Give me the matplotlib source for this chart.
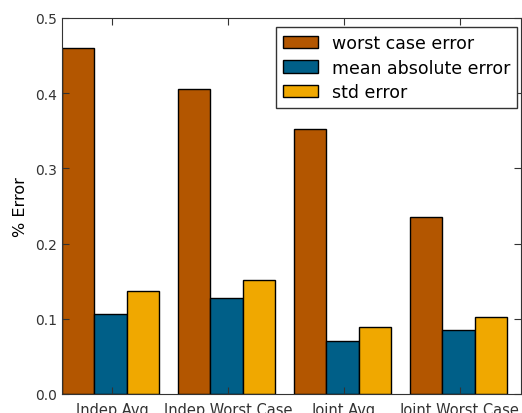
import matplotlib
matplotlib.use('Agg')
import matplotlib.pyplot as plt
import numpy as np

categories = ['Indep Avg', 'Indep Worst Case', 'Joint Avg', 'Joint Worst Case']
worst_case = [0.460, 0.406, 0.353, 0.236]
mean_abs = [0.106, 0.128, 0.070, 0.085]
std_err = [0.1375, 0.151, 0.089, 0.102]

colors = ['#B35600', '#005F88', '#F0A800']
width = 0.28
ind = np.arange(len(categories))

fig = plt.figure(figsize=(5.22, 4.14), dpi=100)
ax = fig.add_axes([62 / 522, 19 / 414, 459 / 522, 376 / 414])

ax.bar(ind, worst_case, width, align='edge', color=colors[0], edgecolor='black', linewidth=1, label='worst case error')
ax.bar(ind + width, mean_abs, width, align='edge', color=colors[1], edgecolor='black', linewidth=1, label='mean absolute error')
ax.bar(ind + 2 * width, std_err, width, align='edge', color=colors[2], edgecolor='black', linewidth=1, label='std error')

ax.set_xlim(0, 3 + 3 * width + 0.12)
ax.set_ylim(0, 0.5)
ax.set_yticks(np.arange(0, 0.51, 0.1))
ax.set_xticks(ind + width * 1.55)
ax.set_xticklabels(categories, fontsize=10.5)
ax.tick_params(direction='in', top=True, right=True, length=5, colors='#333333', labelsize=10)
ax.tick_params(axis='x', labelsize=10.5, pad=6)
ax.set_ylabel('% Error', fontsize=11.5, labelpad=5)
for s in ax.spines.values():
    s.set_edgecolor('#333333')

leg = ax.legend(loc='upper right', bbox_to_anchor=(0.991, 0.976), borderaxespad=0,
                fontsize=12.5, fancybox=False, framealpha=1, edgecolor='#333333',
                handlelength=2.0, labelspacing=0.38)
leg.get_frame().set_linewidth(1)

fig.savefig('out.png', dpi=100)
